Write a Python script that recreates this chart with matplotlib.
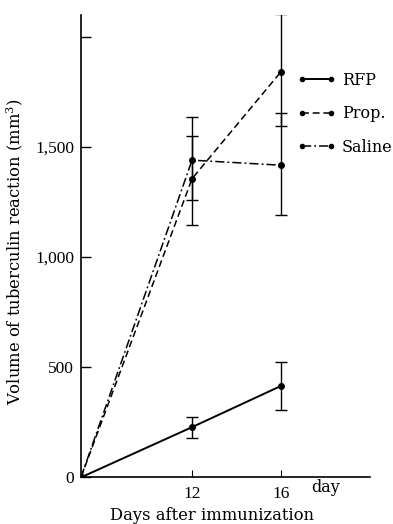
import numpy as np
import matplotlib
matplotlib.use("Agg")
import matplotlib.pyplot as plt

days = [0, 12, 16]
rfp = [0, 228, 415]
rfp_err = [0, 48, 108]
prop = [0, 1356, 1841]
prop_err_lo = [0, 212, 246]
prop_err_hi = [0, 193, 264]
saline = [0, 1440, 1417]
saline_err_lo = [0, 180, 224]
saline_err_hi = [0, 196, 237]
series_names = ["RFP", "Prop.", "Saline"]
xtick_vals = [12, 16]
ytick_vals = [0, 500, 1000, 1500, 2000]
ytick_labels = ["0", "500", "1,000", "1,500", ""]

# non-linear (broken) day axis: day 12 drawn at ~5 units, beyond that linear
brk_days = np.array([0.0, 12.0, 100.0])
brk_pos = np.array([0.0, 5.0, 93.0])

def fwd(x):
    return np.interp(x, brk_days, brk_pos, left=-1e9, right=1e9)

def inv(x):
    return np.interp(x, brk_pos, brk_days, left=-1e9, right=1e9)

plt.rcParams['font.family'] = ['Liberation Serif', 'DejaVu Serif']
plt.rcParams['mathtext.fontset'] = 'dejavuserif'
label_font = ['DejaVu Serif']

fig = plt.figure(figsize=(3.93, 5.24), dpi=100)
ax = fig.add_axes([0.206, 0.089, 0.735, 0.882])
ax.set_xscale('function', functions=(fwd, inv))

ms = 4
ax.plot(days, rfp, color='black', lw=1.4, ls='-', marker='o', ms=ms, label=series_names[0])
ax.plot(days, prop, color='black', lw=1.1, ls=(0, (4.5, 2.5)), marker='o', ms=ms, label=series_names[1])
ax.plot(days, saline, color='black', lw=1.1, ls=(0, (6, 2, 1.2, 2)), marker='o', ms=ms, label=series_names[2])

ekw = dict(fmt='none', ecolor='black', elinewidth=1.0, capsize=4.5, capthick=1.0)
ax.errorbar(days[1:], rfp[1:], yerr=rfp_err[1:], **ekw)
ax.errorbar(days[1:], prop[1:], yerr=[prop_err_lo[1:], prop_err_hi[1:]], **ekw)
ax.errorbar(days[1:], saline[1:], yerr=[saline_err_lo[1:], saline_err_hi[1:]], **ekw)

ax.set_xlim(0, 20)
ax.set_ylim(0, 2098)
ax.spines['top'].set_visible(False)
ax.spines['right'].set_visible(False)
ax.spines['left'].set_linewidth(1.2)
ax.spines['bottom'].set_linewidth(1.2)

ax.set_xticks(xtick_vals)
ax.set_xticklabels([str(v) for v in xtick_vals], fontsize=12.5)
ax.set_yticks(ytick_vals)
ax.set_yticklabels(ytick_labels, fontsize=12.5)
ax.tick_params(axis='x', direction='in', length=5, width=0.8, pad=6)
ax.tick_params(axis='y', direction='in', length=7, width=1.0, pad=5)

ax.text(18.0, -45, "day", fontsize=11.5, family=label_font, ha='center', va='center')
ax.set_xlabel("Days after immunization", fontsize=11.8, family=label_font, va='center')
ax.xaxis.set_label_coords(0.453, -0.0815)
ax.set_ylabel("Volume of tuberculin reaction (mm$^3$)", fontsize=11.8, family=label_font)
ax.yaxis.set_label_coords(-0.192, 0.489)

ax.legend(loc='upper left', bbox_to_anchor=(297 / 393, 1 - 72 / 524), bbox_transform=fig.transFigure,
          frameon=False, numpoints=2, borderpad=0, borderaxespad=0,
          handlelength=2.4, handletextpad=0.4, labelspacing=1.02,
          prop={'family': label_font, 'size': 11.5}, markerscale=0.75)

fig.savefig("out.png", dpi=100)
